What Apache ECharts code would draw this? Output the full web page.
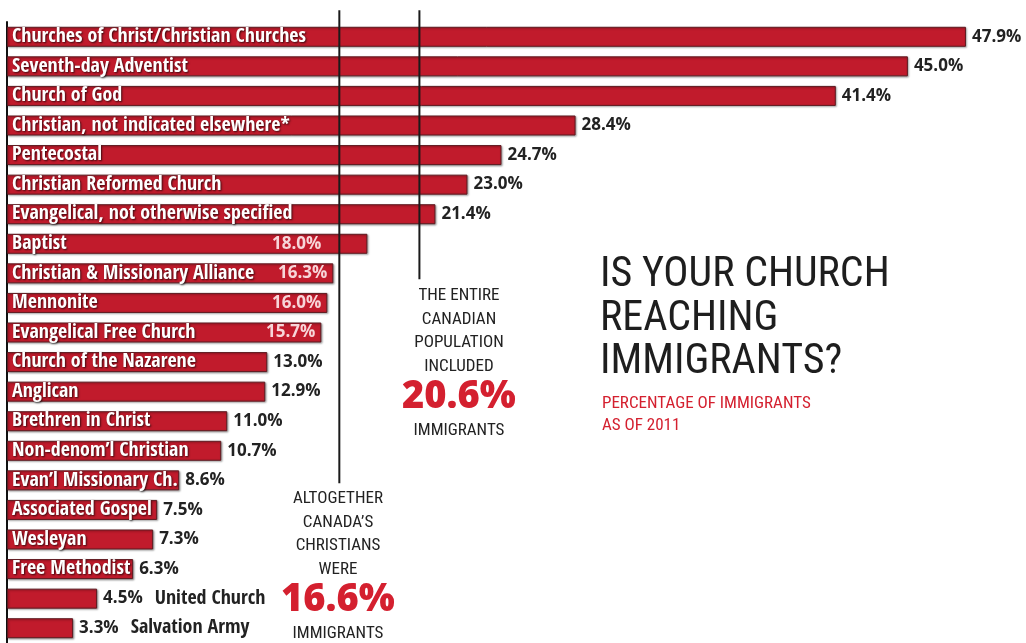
<!DOCTYPE html>
<html><head><meta charset="utf-8">
<script src="https://cdn.jsdelivr.net/npm/echarts@6/dist/echarts.min.js"></script>
<style>html,body{margin:0;padding:0;background:#fff}#c{width:1026px;height:643px}</style>
</head><body><div id="c"></div><script>
const categories = ["Churches of Christ/Christian Churches","Seventh-day Adventist","Church of God","Christian, not indicated elsewhere*","Pentecostal","Christian Reformed Church","Evangelical, not otherwise specified","Baptist","Christian & Missionary Alliance","Mennonite","Evangelical Free Church","Church of the Nazarene","Anglican","Brethren in Christ","Non-denom’l Christian","Evan’l Missionary Ch.","Associated Gospel","Wesleyan","Free Methodist","United Church","Salvation Army"];
const values = [47.9,45.0,41.4,28.4,24.7,23.0,21.4,18.0,16.3,16.0,15.7,13.0,12.9,11.0,10.7,8.6,7.5,7.3,6.3,4.5,3.3];
const valueInsideBar = ["Baptist","Christian & Missionary Alliance","Mennonite","Evangelical Free Church"];
const nameOutsideBar = ["United Church","Salvation Army"];
const canadaPopulationShare = 20.6;
const christiansShare = 16.6;
const titleLines = ["IS YOUR CHURCH","REACHING","IMMIGRANTS?"];
const subtitleLines = ["PERCENTAGE OF IMMIGRANTS","AS OF 2011"];
const canadaNoteLines = ["THE ENTIRE","CANADIAN","POPULATION","INCLUDED"];
const christiansNoteLines = ["ALTOGETHER","CANADA’S","CHRISTIANS","WERE"];
const noteTail = "IMMIGRANTS";

const NAMEFONT = "'Open Sans Condensed','Roboto Condensed',sans-serif";
const VALFONT = "'Open Sans',sans-serif";
const DIN = "'Roboto Condensed',sans-serif";
const RED = '#c11b2c';
const chart = echarts.init(document.getElementById('c'), null, {renderer:'canvas'});

const barData = values.map((v,i)=>({
  value:v,
  label:{show: nameOutsideBar.indexOf(categories[i])<0}
}));
const labelData = values.map((v,i)=>{
  const name = categories[i];
  const inside = valueInsideBar.indexOf(name)>=0;
  const lab = inside ? {position:'insideRight', distance:6, color:'#f7d6d9',
      offset: name==='Baptist'?[-40,0]:[0,0]} : {position:'right', distance:6, color:'#222'};
  return {value:v, label:lab};
});

function noteText(lines, big, cx, y0){
  const els=[];
  lines.forEach((t,k)=>els.push({type:'text', x:cx, y:y0+k*23.5, style:{text:t, fill:'#222', font:"17px "+DIN, align:'center', verticalAlign:'middle'}}));
  const yb = y0+lines.length*23.5+7;
  els.push({type:'text', x:cx, y:yb, style:{text:big.toFixed(1)+'%', fill:'#d4202f', font:"800 38px "+VALFONT, align:'center', verticalAlign:'middle'}});
  els.push({type:'text', x:cx, y:yb+34, style:{text:noteTail, fill:'#222', font:"17px "+DIN, align:'center', verticalAlign:'middle'}});
  return els;
}

const option = {
  animation:false,
  backgroundColor:'#fff',
  title:[
    {text:titleLines.join('\n'), left:595, top:249, textStyle:{fontFamily:DIN, fontSize:42, fontWeight:'normal', color:'#1e1e1e', lineHeight:43.5}},
    {text:subtitleLines.join('\n'), left:597, top:388, textStyle:{fontFamily:DIN, fontSize:17, fontWeight:'normal', color:'#d4202f', lineHeight:22}}
  ],
  grid:{left:7, top:22, width:1001, height:624, containLabel:false},
  xAxis:{type:'value', min:0, max:50, show:false},
  yAxis:[
    {type:'category', data:categories, inverse:true, axisLabel:{show:false}, axisTick:{show:false},
     axisLine:{show:true, lineStyle:{color:'#111', width:2}}},
    {type:'value', min:-0.5, max:20.5, inverse:true, show:false}
  ],
  series:[
    {type:'bar', data:barData, barWidth:20, yAxisIndex:0,
     itemStyle:{color:RED, borderColor:'#5e1a20', borderWidth:1, shadowColor:'rgba(0,0,0,0.35)', shadowBlur:2, shadowOffsetX:1, shadowOffsetY:1},
     label:{position:'insideLeft', distance:5, formatter:'{b}', color:'#fff', fontFamily:NAMEFONT, fontWeight:'bold', fontSize:20,
       textShadowColor:'rgba(0,0,0,0.7)', textShadowBlur:2, textShadowOffsetX:1, textShadowOffsetY:1},
     z:2},
    {type:'bar', data:labelData, barWidth:20, barGap:'-100%', yAxisIndex:0, silent:true,
     itemStyle:{color:'rgba(0,0,0,0)'},
     label:{show:true, fontFamily:VALFONT, fontWeight:'bold', fontSize:17,
       formatter:p=>{
         const t = p.value.toFixed(1)+'%';
         return nameOutsideBar.indexOf(p.name)>=0 ? '{v|'+t+'}{n|'+p.name+'}' : t;
       },
       rich:{v:{fontFamily:VALFONT, fontWeight:'bold', fontSize:17, color:'#222'},
             n:{fontFamily:NAMEFONT, fontWeight:'bold', fontSize:20, color:'#222', padding:[0,0,0,12]}}},
     z:3},
    {type:'line', yAxisIndex:1, clip:false, symbol:'none', silent:true,
     data:[[christiansShare,-0.9],[christiansShare,15.1]], lineStyle:{color:'#1a1a1a', width:2}, z:4},
    {type:'line', yAxisIndex:1, clip:false, symbol:'none', silent:true,
     data:[[canadaPopulationShare,-0.9],[canadaPopulationShare,8.2]], lineStyle:{color:'#1a1a1a', width:2}, z:4}
  ],
  graphic: noteText(canadaNoteLines, canadaPopulationShare, 459, 296).concat(noteText(christiansNoteLines, christiansShare, 338, 499))
};
chart.setOption(option);
</script></body></html>
